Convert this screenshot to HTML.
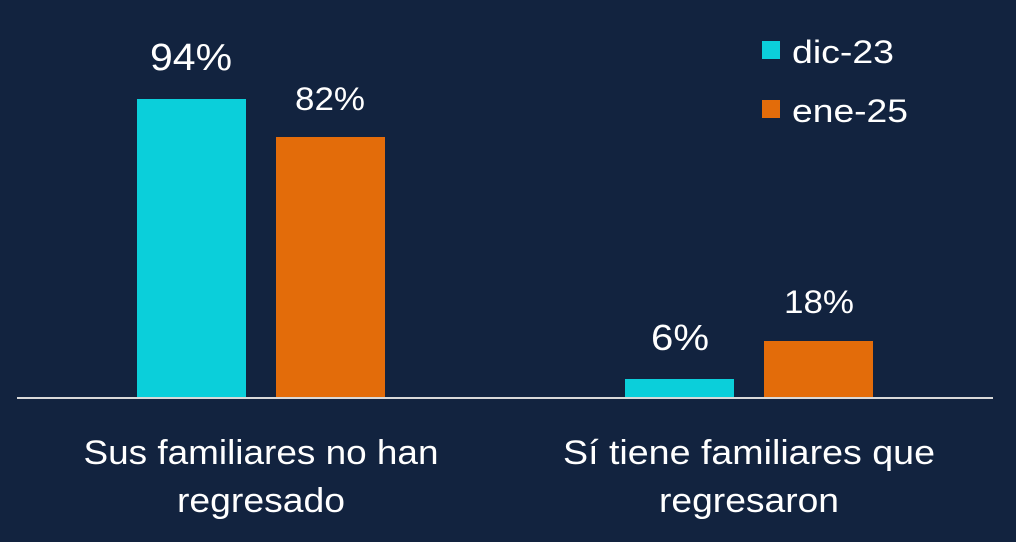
<!DOCTYPE html>
<html><head><meta charset="utf-8"><style>
html,body{margin:0;padding:0;background:#12233f;}
svg{display:block}
text{font-family:"Liberation Sans",sans-serif;fill:#ffffff;}
</style></head><body>
<svg width="1016" height="542" viewBox="0 0 1016 542">
<rect width="1016" height="542" fill="#12233f"/>
<rect x="137" y="99" width="109" height="299" fill="#0bcfda"/>
<rect x="276" y="137" width="109" height="261" fill="#e36c0a"/>
<rect x="625" y="379" width="109" height="19" fill="#0bcfda"/>
<rect x="764" y="341" width="109" height="57" fill="#e36c0a"/>
<line x1="17" y1="398" x2="993" y2="398" stroke="#d9d9d9" stroke-width="2"/>
<text x="191" y="70" font-size="38" text-anchor="middle" textLength="82" lengthAdjust="spacingAndGlyphs">94%</text>
<text x="330" y="110" font-size="32" text-anchor="middle" textLength="70" lengthAdjust="spacingAndGlyphs">82%</text>
<text x="680" y="350" font-size="36" text-anchor="middle" textLength="58" lengthAdjust="spacingAndGlyphs">6%</text>
<text x="819" y="313" font-size="32" text-anchor="middle" textLength="70" lengthAdjust="spacingAndGlyphs">18%</text>
<text x="261" y="464" font-size="34" text-anchor="middle" textLength="355" lengthAdjust="spacingAndGlyphs">Sus familiares no han</text>
<text x="261" y="512" font-size="34" text-anchor="middle" textLength="168" lengthAdjust="spacingAndGlyphs">regresado</text>
<text x="749" y="464" font-size="34" text-anchor="middle" textLength="372" lengthAdjust="spacingAndGlyphs">Sí tiene familiares que</text>
<text x="749" y="512" font-size="34" text-anchor="middle" textLength="180" lengthAdjust="spacingAndGlyphs">regresaron</text>
<rect x="762" y="41" width="18" height="18" fill="#0bcfda"/>
<text x="792" y="63" font-size="32" textLength="102" lengthAdjust="spacingAndGlyphs">dic-23</text>
<rect x="762" y="100" width="18" height="18" fill="#e36c0a"/>
<text x="792" y="122" font-size="32" textLength="116" lengthAdjust="spacingAndGlyphs">ene-25</text>
</svg>
</body></html>
